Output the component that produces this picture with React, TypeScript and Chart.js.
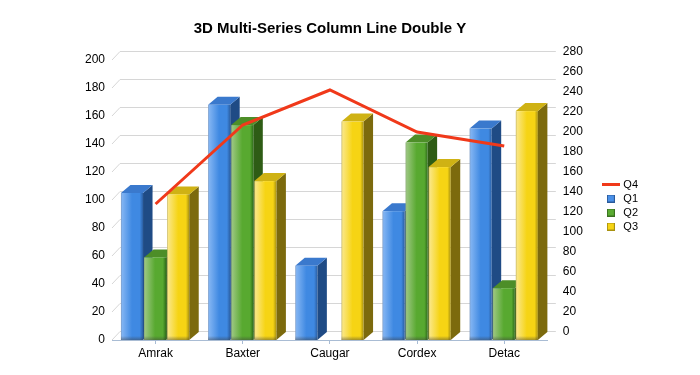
import React, { useEffect, useRef } from "react";
import { Chart, registerables } from "chart.js";

Chart.register(...registerables);

const categories = ["Amrak", "Baxter", "Caugar", "Cordex", "Detac"];
const q1 = [105, 168, 53, 92, 151];
const q2 = [59, 153.5, null, 141, 37];
const q3 = [104, 113.5, 156, 123.5, 163.5];
const q4 = [128, 207, 242, 200, 186];
const leftTicks = [0, 20, 40, 60, 80, 100, 120, 140, 160, 180, 200];
const rightTicks = [0, 20, 40, 60, 80, 100, 120, 140, 160, 180, 200, 220, 240, 260, 280];

const FONT = "'Liberation Sans', Arial, sans-serif";
const DX = 8;
const DY = 8;
const BAR_DX = 9.5;
const GRID = "#d6d6d6";
const AXIS = "#a9bcd4";

const palettes: Record<string, any> = {
  Q1: { edge: "#7f9cc4", light: "#80b3f2", mid: "#3f89e2", dark: "#2b5fa3", side: "#1f4b85", top: "#3a79cd", legend: "#4a90e8", legendBorder: "#2a5a9a" },
  Q2: { edge: "#8fae7c", light: "#98c57c", mid: "#58a930", dark: "#2f6d1a", side: "#2e5c15", top: "#4d8e28", legend: "#5aab32", legendBorder: "#3a7020" },
  Q3: { edge: "#c4b565", light: "#fae682", mid: "#f6d414", dark: "#a89110", side: "#7c6a0d", top: "#cfb214", legend: "#f6d414", legendBorder: "#a89110" },
};

function legendIcon(name: string) {
  const c = document.createElement("canvas");
  const ctx = c.getContext("2d")!;
  if (name === "Q4") {
    c.width = 18;
    c.height = 3;
    ctx.fillStyle = "#f0391a";
    ctx.fillRect(0, 0, 18, 3);
  } else {
    const p = palettes[name];
    c.width = 8;
    c.height = 8;
    ctx.fillStyle = p.legend;
    ctx.fillRect(0, 0, 8, 8);
    ctx.strokeStyle = p.legendBorder;
    ctx.lineWidth = 1;
    ctx.strokeRect(0.5, 0.5, 7, 7);
  }
  return c;
}

const wall3d = {
  id: "wall3d",
  afterLayout(chart: any) {
    chart.legend.top += 18;
    chart.legend.bottom += 18;
  },
  beforeDatasetsDraw(chart: any) {
    const { ctx, chartArea, scales } = chart;
    ctx.save();
    ctx.strokeStyle = GRID;
    ctx.lineWidth = 1;
    leftTicks.forEach((v) => {
      const y = Math.round(scales.y.getPixelForValue(v));
      ctx.beginPath();
      ctx.moveTo(chartArea.left, y);
      ctx.lineTo(chartArea.left + DX, y - DY - 0.5);
      ctx.lineTo(chartArea.right + DX, y - DY - 0.5);
      ctx.stroke();
    });

    chart.data.datasets.forEach((ds: any, di: number) => {
      const meta = chart.getDatasetMeta(di);
      if (meta.type !== "bar") return;
      const p = palettes[ds.label];
      meta.data.forEach((el: any, i: number) => {
        if (ds.data[i] == null) return;
        const l = el.x - el.width / 2;
        const w = el.width - 1;
        const r = l + w;
        const t = el.y;
        const b = el.base;
        ctx.fillStyle = p.side;
        ctx.beginPath();
        ctx.moveTo(r, t);
        ctx.lineTo(r + BAR_DX, t - DY);
        ctx.lineTo(r + BAR_DX, b - DY);
        ctx.lineTo(r, b);
        ctx.closePath();
        ctx.fill();
        ctx.fillStyle = p.top;
        ctx.beginPath();
        ctx.moveTo(l, t);
        ctx.lineTo(l + BAR_DX, t - DY);
        ctx.lineTo(r + BAR_DX, t - DY);
        ctx.lineTo(r, t);
        ctx.closePath();
        ctx.fill();
        const g = ctx.createLinearGradient(l, 0, r, 0);
        g.addColorStop(0, p.edge);
        g.addColorStop(0.06, p.light);
        g.addColorStop(0.5, p.mid);
        g.addColorStop(0.85, p.mid);
        g.addColorStop(1, p.dark);
        ctx.fillStyle = g;
        ctx.fillRect(l, t, w, b - t);
        const s = ctx.createLinearGradient(0, b - 4, 0, b);
        s.addColorStop(0, "rgba(60,60,60,0)");
        s.addColorStop(1, "rgba(60,60,60,0.45)");
        ctx.fillStyle = s;
        ctx.fillRect(l, b - 4, w, 4);
      });
    });
    ctx.restore();
  },
  beforeDatasetDraw(_chart: any, args: any) {
    if (args.meta.type === "bar") return false;
    return true;
  },
};

export default function App() {
  const ref = useRef<HTMLCanvasElement>(null);
  useEffect(() => {
    document.body.style.margin = "0";
    document.body.style.background = "#fff";
    const bar = (label: string, data: any[]) => ({
      type: "bar",
      label,
      data,
      yAxisID: "y",
      backgroundColor: palettes[label].legend,
      barPercentage: 1,
      categoryPercentage: 0.795,
    });
    const chart = new Chart(ref.current!, {
      data: {
        labels: categories,
        datasets: [
          {
            type: "line",
            label: "Q4",
            data: q4,
            yAxisID: "y1",
            borderColor: "#f0391a",
            backgroundColor: "#f0391a",
            borderWidth: 3,
            pointRadius: 0,
            tension: 0,
            fill: false,
          },
          bar("Q1", q1),
          bar("Q2", q2),
          bar("Q3", q3),
        ],
      } as any,
      plugins: [wall3d],
      options: {
        responsive: false,
        animation: false,
        layout: { padding: { right: 52 } },
        plugins: {
          tooltip: { enabled: false },
          title: {
            display: true,
            fullSize: false,
            text: "3D Multi-Series Column Line Double Y",
            color: "#000",
            font: { family: FONT, size: 15, weight: "bold" },
            padding: { top: 20, bottom: -13 },
          },
          legend: {
            position: "right",
            onClick: undefined,
            labels: {
              color: "#000",
              font: { family: FONT, size: 11 },
              usePointStyle: true,
              pointStyleWidth: 14,
              boxHeight: 8,
              padding: 3,
              generateLabels: (c: any) =>
                c.data.datasets.map((d: any, i: number) => ({
                  text: d.label,
                  datasetIndex: i,
                  pointStyle: legendIcon(d.label),
                  fillStyle: d.backgroundColor,
                  strokeStyle: d.backgroundColor,
                  fontColor: "#000",
                  lineWidth: 0,
                })),
            },
          },
        },
        scales: {
          x: {
            offset: true,
            border: { color: AXIS, width: 1 },
            grid: { display: true, drawOnChartArea: false, offset: false, color: AXIS, tickLength: 4 },
            ticks: { color: "#000", font: { family: FONT, size: 12 }, padding: 2, maxRotation: 0 },
            afterFit: (s: any) => {
              s.height = 35;
            },
          },
          y: {
            position: "left",
            min: 0,
            max: 225,
            grid: { display: false, drawTicks: false },
            border: { display: false },
            ticks: { color: "#000", font: { family: FONT, size: 12 }, padding: 7 },
            afterBuildTicks: (s: any) => {
              s.ticks = leftTicks.map((value) => ({ value }));
            },
            afterFit: (s: any) => {
              s.width = 112;
            },
          },
          y1: {
            position: "right",
            min: -8,
            max: 307,
            grid: { display: false, drawTicks: false },
            border: { display: false },
            ticks: { color: "#000", font: { family: FONT, size: 12 }, padding: 15 },
            afterBuildTicks: (s: any) => {
              s.ticks = rightTicks.map((value) => ({ value }));
            },
            afterFit: (s: any) => {
              s.width = 53;
            },
          },
        },
      },
    } as any);
    return () => chart.destroy();
  }, []);
  return <canvas ref={ref} width={700} height={375} style={{ display: "block" }} />;
}
